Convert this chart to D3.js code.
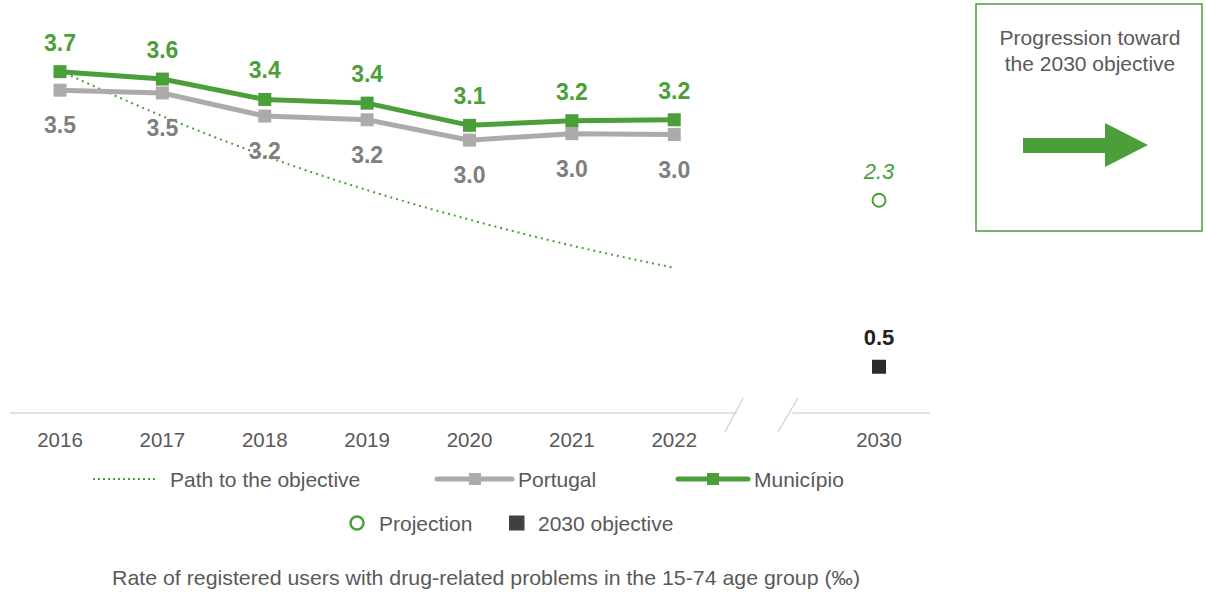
<!DOCTYPE html>
<html><head><meta charset="utf-8">
<script src="https://cdn.jsdelivr.net/npm/d3@7"></script>
<style>body{margin:0;background:#fff;font-family:"Liberation Sans",Arial,sans-serif;}</style>
</head><body><svg id="c" width="1206" height="592"></svg>
<script>
const years = ["2016","2017","2018","2019","2020","2021","2022"];
const slots = ["2016","2017","2018","2019","2020","2021","2022","gap","2030"];
const municipio = [3.69,3.61,3.39,3.35,3.11,3.16,3.17];
const municipioLabels = ["3.7","3.6","3.4","3.4","3.1","3.2","3.2"];
const portugal = [3.49,3.46,3.21,3.17,2.95,3.02,3.01];
const portugalLabels = ["3.5","3.5","3.2","3.2","3.0","3.0","3.0"];
const pathObjective = [3.70,3.21,2.78,2.41,2.09,1.81,1.57];
const projection = {year:"2030", value:2.3, label:"2.3"};
const objective = {year:"2030", value:0.5, label:"0.5"};
const tickLabels = ["2016","2017","2018","2019","2020","2021","2022","2030"];

const GREEN="#4a9f3a", GRAY="#aeaaaa", GRAYTXT="#7f7f7f", TXT="#595959";
const svg=d3.select("#c");
const x=d3.scalePoint().domain(slots).range([60,879]);
const y=d3.scaleLinear().domain([0,3.7]).range([413,70.75]);

// axis baseline with break
svg.append("line").attr("x1",10).attr("x2",737).attr("y1",y(0)).attr("y2",y(0)).attr("stroke","#d9d9d9").attr("stroke-width",1.5);
svg.append("line").attr("x1",792).attr("x2",930).attr("y1",y(0)).attr("y2",y(0)).attr("stroke","#d9d9d9").attr("stroke-width",1.5);
[[743,725],[798,778]].forEach(([a,b])=>svg.append("line").attr("x1",a).attr("y1",398).attr("x2",b).attr("y2",432).attr("stroke","#d0d0d0").attr("stroke-width",1.2));

// tick labels
svg.append("g").selectAll("text").data(tickLabels).join("text")
  .attr("x",d=>x(d)).attr("y",447).attr("text-anchor","middle").attr("font-size",20.5).attr("fill",TXT).text(d=>d);

// path to objective
const line=d3.line().x((d,i)=>x(years[i])).y(d=>y(d)).curve(d3.curveMonotoneX);
svg.append("path").attr("d",line(pathObjective)).attr("fill","none").attr("stroke",GREEN).attr("stroke-width",2).attr("stroke-dasharray","2,4");

const line2=d3.line().x((d,i)=>x(years[i])).y(d=>y(d));
function series(vals,color){
  svg.append("path").attr("d",line2(vals)).attr("fill","none").attr("stroke",color).attr("stroke-width",5);
  svg.append("g").selectAll("rect").data(vals).join("rect")
    .attr("x",(d,i)=>x(years[i])-6.5).attr("y",d=>y(d)-6.5).attr("width",13).attr("height",13).attr("fill",color);
}
series(portugal,GRAY);
series(municipio,GREEN);

svg.append("g").selectAll("text").data(municipio).join("text")
  .attr("x",(d,i)=>x(years[i])).attr("y",d=>y(d)-21).attr("text-anchor","middle")
  .attr("font-size",23).attr("font-weight","bold").attr("fill",GREEN).text((d,i)=>municipioLabels[i]);
svg.append("g").selectAll("text").data(portugal).join("text")
  .attr("x",(d,i)=>x(years[i])).attr("y",d=>y(d)+43).attr("text-anchor","middle")
  .attr("font-size",23).attr("font-weight","bold").attr("fill",GRAYTXT).text((d,i)=>portugalLabels[i]);

// projection
svg.append("circle").attr("cx",x(projection.year)).attr("cy",y(projection.value)).attr("r",6.5).attr("fill","#fff").attr("stroke",GREEN).attr("stroke-width",2);
svg.append("text").attr("x",x(projection.year)).attr("y",y(projection.value)-21).attr("text-anchor","middle")
  .attr("font-size",22).attr("font-style","italic").attr("fill",GREEN).text(projection.label);
// objective
svg.append("rect").attr("x",x(objective.year)-7).attr("y",y(objective.value)-7).attr("width",14).attr("height",14).attr("fill","#2b2b2b");
svg.append("text").attr("x",x(objective.year)).attr("y",y(objective.value)-22).attr("text-anchor","middle")
  .attr("font-size",22).attr("font-weight","bold").attr("fill","#222").text(objective.label);

// legend
const lg=svg.append("g").attr("font-size",21).attr("fill",TXT);
lg.append("line").attr("x1",93).attr("x2",158).attr("y1",479).attr("y2",479).attr("stroke",GREEN).attr("stroke-width",2).attr("stroke-dasharray","2,3");
lg.append("text").attr("x",170).attr("y",487).text("Path to the objective");
lg.append("line").attr("x1",437).attr("x2",512).attr("y1",479).attr("y2",479).attr("stroke",GRAY).attr("stroke-width",5).attr("stroke-linecap","round");
lg.append("rect").attr("x",469).attr("y",473).attr("width",12).attr("height",12).attr("fill",GRAY);
lg.append("text").attr("x",518).attr("y",487).text("Portugal");
lg.append("line").attr("x1",678).attr("x2",748).attr("y1",479).attr("y2",479).attr("stroke",GREEN).attr("stroke-width",5).attr("stroke-linecap","round");
lg.append("rect").attr("x",707).attr("y",473).attr("width",12).attr("height",12).attr("fill",GREEN);
lg.append("text").attr("x",754).attr("y",487).text("Município");
lg.append("circle").attr("cx",357).attr("cy",523).attr("r",6.5).attr("fill","#fff").attr("stroke",GREEN).attr("stroke-width",2.5);
lg.append("text").attr("x",379).attr("y",531).text("Projection");
lg.append("rect").attr("x",509).attr("y",515.5).attr("width",15.5).attr("height",15).attr("fill","#404040");
lg.append("text").attr("x",538).attr("y",531).text("2030 objective");

svg.append("text").attr("x",486).attr("y",585).attr("text-anchor","middle").attr("font-size",21).attr("fill",TXT)
  .attr("textLength",748).attr("lengthAdjust","spacingAndGlyphs")
  .text("Rate of registered users with drug-related problems in the 15-74 age group (‰)");

// box
svg.append("rect").attr("x",976).attr("y",4).attr("width",226).attr("height",227).attr("fill","none").attr("stroke",GREEN).attr("stroke-width",1.5);
svg.append("text").attr("x",1090).attr("y",45).attr("text-anchor","middle").attr("font-size",21).attr("fill",TXT).text("Progression toward");
svg.append("text").attr("x",1090).attr("y",71).attr("text-anchor","middle").attr("font-size",21).attr("fill",TXT).text("the 2030 objective");
svg.append("path").attr("d","M1023,138 L1105,138 L1105,123 L1148,145 L1105,167 L1105,153 L1023,153 Z").attr("fill",GREEN);
</script></body></html>
